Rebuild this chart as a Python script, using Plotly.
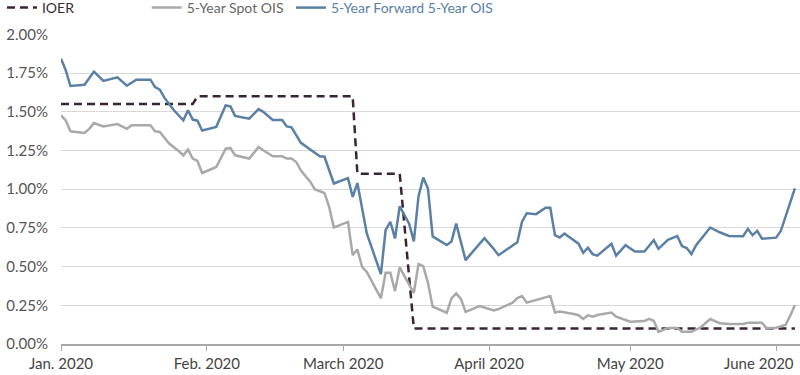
import plotly.graph_objects as go

# ---- data ----
ioer_dates = ["2020-01-01", "2020-01-29", "2020-01-30", "2020-03-03", "2020-03-04",
              "2020-03-13", "2020-03-16", "2020-06-05"]
ioer_vals = [1.55, 1.55, 1.60, 1.60, 1.10, 1.10, 0.10, 0.10]

spot_dates = ["2020-01-01", "2020-01-02", "2020-01-03", "2020-01-06", "2020-01-07", "2020-01-08",
              "2020-01-10", "2020-01-13", "2020-01-15", "2020-01-16", "2020-01-20", "2020-01-21",
              "2020-01-22", "2020-01-24", "2020-01-26", "2020-01-27", "2020-01-28", "2020-01-29",
              "2020-01-30", "2020-01-31", "2020-02-03", "2020-02-05", "2020-02-06", "2020-02-07",
              "2020-02-10", "2020-02-12", "2020-02-13", "2020-02-15", "2020-02-17", "2020-02-18",
              "2020-02-19", "2020-02-20", "2020-02-21", "2020-02-23", "2020-02-24", "2020-02-26",
              "2020-02-27", "2020-02-28", "2020-03-02", "2020-03-03", "2020-03-04", "2020-03-05",
              "2020-03-06", "2020-03-09", "2020-03-10", "2020-03-11", "2020-03-12", "2020-03-13",
              "2020-03-14", "2020-03-16", "2020-03-17", "2020-03-18", "2020-03-19", "2020-03-20",
              "2020-03-23", "2020-03-24", "2020-03-25", "2020-03-26", "2020-03-27", "2020-03-30",
              "2020-04-02", "2020-04-03", "2020-04-06", "2020-04-07", "2020-04-08", "2020-04-09",
              "2020-04-14", "2020-04-15", "2020-04-16", "2020-04-17", "2020-04-19", "2020-04-20",
              "2020-04-21", "2020-04-22", "2020-04-23", "2020-04-24", "2020-04-27", "2020-04-28",
              "2020-05-01", "2020-05-04", "2020-05-05", "2020-05-06", "2020-05-07", "2020-05-09",
              "2020-05-11", "2020-05-12", "2020-05-14", "2020-05-16", "2020-05-18", "2020-05-20",
              "2020-05-22", "2020-05-25", "2020-05-26", "2020-05-29", "2020-05-30", "2020-06-01",
              "2020-06-03", "2020-06-04", "2020-06-05"]
spot_vals = [1.477, 1.445, 1.374, 1.363, 1.39, 1.428,
             1.406, 1.421, 1.39, 1.413, 1.413, 1.374,
             1.37, 1.295, 1.247, 1.219, 1.256, 1.198,
             1.183, 1.105, 1.144, 1.262, 1.267, 1.219,
             1.198, 1.273, 1.252, 1.213, 1.213, 1.198,
             1.198, 1.176, 1.12, 1.047, 0.998, 0.976,
             0.886, 0.753, 0.789, 0.574, 0.611, 0.499,
             0.466, 0.295, 0.46, 0.46, 0.342, 0.495,
             0.439, 0.331, 0.516, 0.503, 0.395, 0.241,
             0.202, 0.295, 0.327, 0.292, 0.208, 0.245,
             0.217, 0.226, 0.267, 0.297, 0.31, 0.267,
             0.31, 0.204, 0.21, 0.206, 0.194, 0.186,
             0.162, 0.185, 0.176, 0.187, 0.203, 0.176,
             0.144, 0.148, 0.162, 0.15, 0.079, 0.103,
             0.103, 0.079, 0.079, 0.108, 0.161, 0.134,
             0.129, 0.129, 0.137, 0.137, 0.101, 0.105,
             0.123, 0.183, 0.252]

fwd_dates = ["2020-01-01", "2020-01-02", "2020-01-03", "2020-01-06", "2020-01-08", "2020-01-10",
             "2020-01-13", "2020-01-15", "2020-01-17", "2020-01-20", "2020-01-21", "2020-01-22",
             "2020-01-23", "2020-01-25", "2020-01-27", "2020-01-28", "2020-01-29", "2020-01-30",
             "2020-01-31", "2020-02-03", "2020-02-05", "2020-02-06", "2020-02-07", "2020-02-10",
             "2020-02-12", "2020-02-13", "2020-02-15", "2020-02-17", "2020-02-18", "2020-02-19",
             "2020-02-21", "2020-02-24", "2020-02-25", "2020-02-26", "2020-02-28", "2020-03-02",
             "2020-03-03", "2020-03-04", "2020-03-05", "2020-03-06", "2020-03-09", "2020-03-10",
             "2020-03-11", "2020-03-12", "2020-03-13", "2020-03-15", "2020-03-16", "2020-03-17",
             "2020-03-18", "2020-03-19", "2020-03-20", "2020-03-23", "2020-03-24", "2020-03-25",
             "2020-03-27", "2020-03-31", "2020-04-02", "2020-04-03", "2020-04-07", "2020-04-08",
             "2020-04-09", "2020-04-11", "2020-04-13", "2020-04-14", "2020-04-15", "2020-04-16",
             "2020-04-17", "2020-04-20", "2020-04-21", "2020-04-22", "2020-04-23", "2020-04-24",
             "2020-04-27", "2020-04-28", "2020-04-30", "2020-05-02", "2020-05-04", "2020-05-06",
             "2020-05-07", "2020-05-09", "2020-05-11", "2020-05-12", "2020-05-13", "2020-05-14",
             "2020-05-15", "2020-05-18", "2020-05-20", "2020-05-22", "2020-05-25", "2020-05-26",
             "2020-05-27", "2020-05-28", "2020-05-29", "2020-06-01", "2020-06-02", "2020-06-05"]
fwd_vals = [1.843, 1.77, 1.667, 1.675, 1.76, 1.70,
            1.723, 1.669, 1.708, 1.708, 1.66, 1.643,
            1.59, 1.51, 1.445, 1.51, 1.45, 1.443,
            1.38, 1.403, 1.542, 1.535, 1.474, 1.456,
            1.518, 1.50, 1.447, 1.447, 1.406, 1.40,
            1.30, 1.235, 1.213, 1.21, 1.037, 1.072,
            0.95, 1.04, 0.87, 0.714, 0.452, 0.735,
            0.79, 0.682, 0.89, 0.778, 0.663, 0.955,
            1.075, 1.005, 0.695, 0.639, 0.662, 0.778,
            0.542, 0.684, 0.614, 0.574, 0.657, 0.79,
            0.845, 0.839, 0.88, 0.88, 0.703, 0.688,
            0.714, 0.648, 0.589, 0.622, 0.581, 0.571,
            0.648, 0.571, 0.639, 0.598, 0.598, 0.671,
            0.615, 0.673, 0.697, 0.633, 0.62, 0.581,
            0.639, 0.753, 0.722, 0.698, 0.697, 0.744,
            0.703, 0.731, 0.68, 0.687, 0.73, 1.005]

x_tick_vals = ["2020-01-01", "2020-02-01", "2020-03-01", "2020-04-01", "2020-05-01", "2020-06-01"]
x_tick_text = ["Jan. 2020", "Feb. 2020", "March 2020", "April 2020", "May 2020", "June 2020"]
y_tick_vals = [0, 0.25, 0.5, 0.75, 1.0, 1.25, 1.5, 1.75, 2.0]
y_tick_text = ["0.00%", "0.25%", "0.50%", "0.75%", "1.00%", "1.25%", "1.50%", "1.75%", "2.00%"]

# the last month label sits left of its tick so it stays inside the chart
x_tick_labels = x_tick_text[:-1] + [x_tick_text[-1] + "\u00a0" * 9]

# ---- styles ----
C_IOER = "#3c2437"
C_SPOT = "#a9a9a9"
C_FWD = "#5b80a5"
FONT = "Lato"

fig = go.Figure()
fig.add_trace(go.Scatter(x=ioer_dates, y=ioer_vals, mode="lines",
                         name="<span style='color:#3a2a35'>IOER</span>",
                         line=dict(color=C_IOER, width=2.5, dash="8px,5px"),
                         legend="legend"))
fig.add_trace(go.Scatter(x=spot_dates, y=spot_vals, mode="lines",
                         name="<span style='color:#666666'>5-Year Spot OIS</span>",
                         line=dict(color=C_SPOT, width=2.5),
                         legend="legend2"))
fig.add_trace(go.Scatter(x=fwd_dates, y=fwd_vals, mode="lines",
                         name="<span style='color:#5b80a5'>5-Year Forward 5-Year OIS</span>",
                         line=dict(color=C_FWD, width=2.5),
                         legend="legend3"))

leg_common = dict(orientation="h", xref="paper", yref="paper",
                  yanchor="top", y=1.1355, xanchor="left",
                  font=dict(family=FONT, size=14), bgcolor="rgba(0,0,0,0)",
                  itemwidth=30, tracegroupgap=0)

fig.update_layout(
    width=800, height=375,
    margin=dict(l=61, r=0, t=34, b=31, autoexpand=False),
    plot_bgcolor="white", paper_bgcolor="white",
    font=dict(family=FONT, size=15, color="#555555"),
    showlegend=True,
    legend=dict(x=-0.0799, **leg_common),
    legend2=dict(x=0.116, **leg_common),
    legend3=dict(x=0.3112, **leg_common),
    xaxis=dict(type="date", range=["2020-01-01", "2020-06-06 02:00"],
               tickvals=x_tick_vals, ticktext=x_tick_labels,
               showgrid=False, showline=True, linecolor="#a8a8a8", linewidth=2,
               ticks="outside", ticklen=5, tickwidth=1, tickcolor="#a8a8a8",
               tickfont=dict(family=FONT, size=15, color="#444444"),
               ticklabeloverflow="allow",
               zeroline=False, automargin=False),
    yaxis=dict(range=[0, 2.003], tickvals=y_tick_vals, ticktext=y_tick_text,
               showgrid=True, gridcolor="#d9d9d9", gridwidth=1,
               zeroline=False, showline=False, ticks="",
               ticklabelstandoff=12, automargin=False,
               tickfont=dict(family=FONT, size=15, color="#555555")),
)

fig.write_html("out.html", config={"displayModeBar": False},
               post_script="document.body.style.margin='0';document.body.style.overflow='hidden';")
